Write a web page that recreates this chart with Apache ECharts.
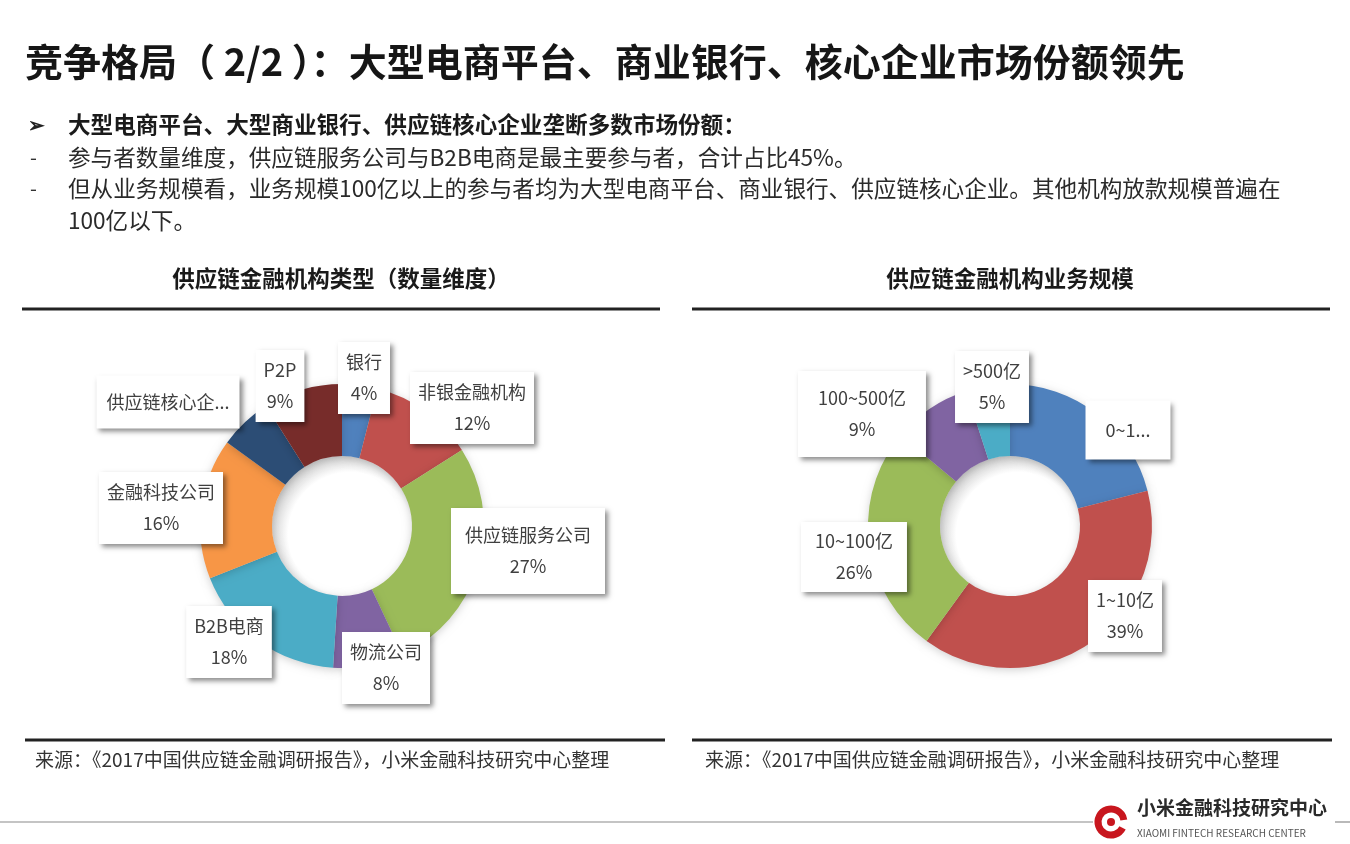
<!DOCTYPE html>
<html>
<head>
<meta charset="utf-8">
<script src="https://cdn.jsdelivr.net/npm/echarts@6/dist/echarts.min.js"></script>
<style>
html,body{margin:0;padding:0;background:#fff;}
#chart{width:1350px;height:844px;}
</style>
</head>
<body>
<div id="chart"></div>
<script>
// ---------------- DATA ----------------
const pageTitle = '竞争格局（ 2/2 ）：大型电商平台、商业银行、核心企业市场份额领先';
const bulletHead = '大型电商平台、大型商业银行、供应链核心企业垄断多数市场份额：';
const bulletLines = [
  '参与者数量维度，供应链服务公司与B2B电商是最主要参与者，合计占比45%。',
  '但从业务规模看，业务规模100亿以上的参与者均为大型电商平台、商业银行、供应链核心企业。其他机构放款规模普遍在',
  '100亿以下。'
];
const leftTitle = '供应链金融机构类型（数量维度）';
const rightTitle = '供应链金融机构业务规模';
const sourceText = '来源：《2017中国供应链金融调研报告》，小米金融科技研究中心整理';

const leftNames  = ['银行', '非银金融机构', '供应链服务公司', '物流公司', 'B2B电商', '金融科技公司', '供应链核心企业', 'P2P'];
const leftValues = [4, 12, 27, 8, 18, 16, 6, 9];

const rightNames  = ['0~1亿', '1~10亿', '10~100亿', '100~500亿', '>500亿'];
const rightValues = [21, 39, 26, 9, 5];

// labels that are truncated in the original (shown without percentage)
const truncatedLabels = {'供应链核心企业': '供应链核心企...', '0~1亿': '0~1...'};

// ---------------- STYLE / LAYOUT ----------------
const FONT = '"Noto Sans CJK SC", "Noto Sans", sans-serif';
const leftColors  = ['#4F81BD', '#C0504D', '#9BBB59', '#8064A2', '#4BACC6', '#F79646', '#2C4D75', '#772C2A'];
const rightColors = ['#4F81BD', '#C0504D', '#9BBB59', '#8064A2', '#4BACC6'];
const LEFT_C = [342, 526], RIGHT_C = [1010, 526];
const R_IN = 70, R_OUT = 142;
// label box centre offsets from the donut centre
const labelOffset = {
  '银行': [22, -148], '非银金融机构': [130, -118], '供应链服务公司': [186, 25], '物流公司': [44, 142],
  'B2B电商': [-113, 116], '金融科技公司': [-181, -18], '供应链核心企业': [-174, -124], 'P2P': [-62, -140],
  '0~1亿': [118, -96], '1~10亿': [115, 90], '10~100亿': [-156, 31], '100~500亿': [-148, -112], '>500亿': [-18, -139]
};
const labelPad = {'供应链服务公司': [12, 14], '100~500亿': [12, 20], '0~1亿': [14, 20], '供应链核心企业': [11, 10], '10~100亿': [4, 14]};

function buildData(names, values, colors) {
  return names.map((n, i) => ({
    name: n, value: values[i],
    itemStyle: {color: colors[i]},
    label: {padding: labelPad[n] || [5, 8]}
  }));
}

function donut(center, names, values, colors) {
  return {
    type: 'pie', center: center, radius: [R_IN, R_OUT], startAngle: 90, clockwise: true,
    avoidLabelOverlap: false, silent: true, animation: false,
    itemStyle: {shadowBlur: 8, shadowColor: 'rgba(0,0,0,0.18)', shadowOffsetY: 2},
    label: {
      show: true, position: 'outside',
      formatter: p => truncatedLabels[p.name] ? truncatedLabels[p.name] : p.name + '\n' + p.value + '%',
      fontFamily: FONT, fontSize: 18, lineHeight: 31, color: '#404040',
      backgroundColor: '#fff',
      shadowColor: 'rgba(0,0,0,0.45)', shadowBlur: 5, shadowOffsetX: 3, shadowOffsetY: 3,
      align: 'center'
    },
    labelLine: {show: false},
    labelLayout: function (p) {
      const o = labelOffset[names[p.dataIndex]];
      return {x: center[0] + o[0], y: center[1] + o[1], align: 'center', verticalAlign: 'middle'};
    },
    data: buildData(names, values, colors)
  };
}

function hole(center) {
  return {
    type: 'pie', center: center, radius: [0, R_IN], silent: true, animation: false,
    label: {show: false}, labelLine: {show: false},
    data: [{value: 1, itemStyle: {color: {
      type: 'radial', x: 0.56, y: 0.56, r: 0.6,
      colorStops: [{offset: 0, color: '#ffffff'}, {offset: 0.74, color: '#ffffff'}, {offset: 1, color: '#c9c9c9'}]
    }}}]
  };
}

function txt(x, y, text, size, opts) {
  opts = opts || {};
  return {
    type: 'text', x: x, y: y, silent: true,
    style: {
      text: text, fill: opts.color || '#222',
      font: (opts.bold ? 'bold ' : '') + size + 'px ' + FONT,
      textAlign: opts.align || 'left', align: opts.align || 'left',
      textVerticalAlign: 'middle', verticalAlign: 'middle'
    }
  };
}
function hline(x1, x2, y, w, color) {
  return {type: 'line', silent: true, shape: {x1: x1, y1: y, x2: x2, y2: y}, style: {stroke: color || '#222', lineWidth: w}};
}

const graphics = [
  txt(25, 62, pageTitle, 38, {bold: true, color: '#161616'}),
  txt(28, 124, '➢', 20, {bold: true, color: '#222'}),
  txt(68, 124, bulletHead, 22.6, {bold: true, color: '#1a1a1a'}),
  txt(30, 157, '-', 20, {color: '#333'}),
  txt(68, 157, bulletLines[0], 22.6, {color: '#2a2a2a'}),
  txt(30, 188, '-', 20, {color: '#333'}),
  txt(68, 188, bulletLines[1], 22.6, {color: '#2a2a2a'}),
  txt(68, 220, bulletLines[2], 22.6, {color: '#2a2a2a'}),
  txt(341, 278, leftTitle, 22.5, {bold: true, align: 'center', color: '#1a1a1a'}),
  txt(1010, 278, rightTitle, 22.5, {bold: true, align: 'center', color: '#1a1a1a'}),
  hline(22, 660, 309, 3),
  hline(692, 1330, 309, 3),
  hline(25, 665, 740, 3),
  hline(692, 1332, 740, 3),
  txt(35, 760, sourceText, 19, {color: '#333'}),
  txt(705, 760, sourceText, 19, {color: '#333'}),
  hline(0, 1093, 822, 1.2, '#8a8a8a'),
  hline(1335, 1350, 822, 1.2, '#8a8a8a'),
  {type: 'arc', silent: true, shape: {cx: 1111, cy: 822, r: 13, startAngle: Math.PI * 0.15, endAngle: Math.PI * 1.95},
   style: {stroke: '#c8161e', lineWidth: 7, fill: null}},
  {type: 'circle', silent: true, shape: {cx: 1111, cy: 822, r: 4}, style: {fill: '#c8161e'}},
  txt(1137, 808, '小米金融科技研究中心', 19, {bold: true, color: '#2a2a2a'}),
  txt(1137, 833, 'XIAOMI FINTECH RESEARCH CENTER', 10, {color: '#555'})
];

const chart = echarts.init(document.getElementById('chart'), null, {renderer: 'canvas'});
chart.setOption({
  backgroundColor: '#ffffff',
  animation: false,
  series: [
    hole(LEFT_C), donut(LEFT_C, leftNames, leftValues, leftColors),
    hole(RIGHT_C), donut(RIGHT_C, rightNames, rightValues, rightColors)
  ],
  graphic: graphics
});
</script>
</body>
</html>
